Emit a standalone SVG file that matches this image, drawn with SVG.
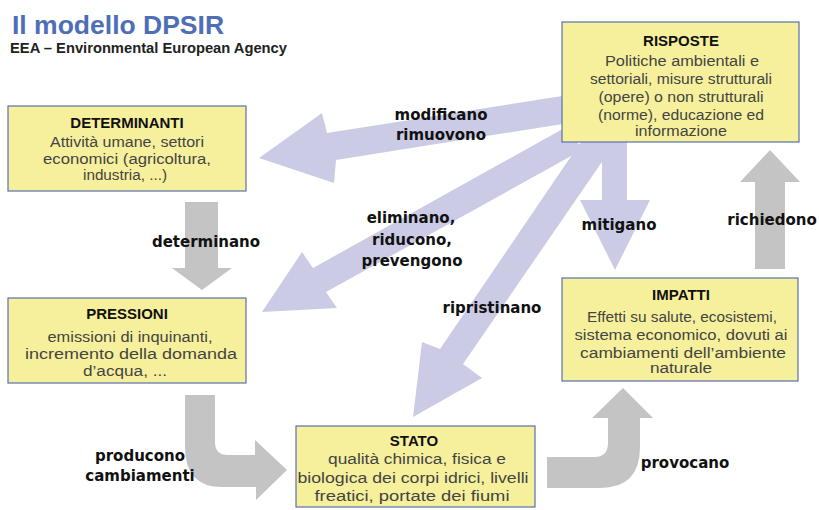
<svg xmlns="http://www.w3.org/2000/svg" width="819" height="510" viewBox="0 0 819 510">
<style>
.box{fill:#f6f09c;stroke:#5a70b0;stroke-width:1.2}
.ttl{font-family:"Liberation Sans",Arial,sans-serif;font-weight:bold;font-size:15px;fill:#111;text-anchor:middle}
.txt{font-family:"Liberation Sans",Arial,sans-serif;font-size:14px;fill:#444;text-anchor:middle}
.lav{fill:#cbcbe6}
.gry{fill:#c4c4c4}
.lbl{font-family:"DejaVu Sans",Verdana,sans-serif;font-weight:bold;font-size:15px;fill:#111;text-anchor:middle}
</style>
<rect width="819" height="510" fill="#ffffff"/>
<text x="12" y="34" font-family="Liberation Sans, Arial, sans-serif" font-weight="bold" font-size="26.5" fill="#4e6eb8">Il modello DPSIR</text>
<text x="10" y="53" font-family="Liberation Sans, Arial, sans-serif" font-weight="bold" font-size="14" fill="#222" textLength="277" lengthAdjust="spacingAndGlyphs">EEA – Environmental European Agency</text>
<g id="connectors">
<polygon class="lav" points="575,94 575,122 336,160 334,183 259,158 322,113 327,133"/>
<polygon class="lav" points="568,126 582,150 326,292 337,308 262,312 302,252 313,268"/>
<polygon class="lav" points="593,124 617,140 463,364 482,378 413,417 422,342 440,349"/>
<polygon class="lav" points="602,135 627,135 627,200 650,200 615,270 580,200 602,200"/>
<polygon class="gry" points="755,269 785,269 785,182 800,182 770,150 740,182 755,182"/>
<polygon class="gry" points="185,202 218,202 218,268 232,268 202,290 172,268 185,268"/>
<path class="gry" d="M185,395 L215,395 L215,442 Q215,455 228,455 L255,455 L255,440 L287,470 L256,500 L256,487 L222,487 Q185,487 185,447 Z"/>
<path class="gry" d="M547,457 L594,457 Q608,457 608,443 L608,418 L592,418 L623,388 L653,418 L640,418 L640,447 Q640,488 600,488 L547,488 Z"/>
<text class="lbl" x="441" y="120">modificano</text>
<text class="lbl" x="441" y="140">rimuovono</text>
<text class="lbl" x="411" y="223">eliminano,</text>
<text class="lbl" x="412" y="245">riducono,</text>
<text class="lbl" x="412" y="266">prevengono</text>
<text class="lbl" x="492" y="313">ripristinano</text>
<text class="lbl" x="619" y="230">mitigano</text>
<text class="lbl" x="772" y="225">richiedono</text>
<text class="lbl" x="206" y="247">determinano</text>
<text class="lbl" x="140" y="461">producono</text>
<text class="lbl" x="140" y="481">cambiamenti</text>
<text class="lbl" x="685" y="468">provocano</text>
</g>
<g id="determinanti">
<rect class="box" x="8" y="106" width="238" height="85"/>
<text class="ttl" x="127" y="128">DETERMINANTI</text>
<text class="txt" x="127" y="147" textLength="154" lengthAdjust="spacingAndGlyphs">Attività umane, settori</text>
<text class="txt" x="127" y="164" textLength="168" lengthAdjust="spacingAndGlyphs">economici (agricoltura,</text>
<text class="txt" x="125" y="180" textLength="84" lengthAdjust="spacingAndGlyphs">industria, ...)</text>
</g>
<g id="pressioni">
<rect class="box" x="8" y="298" width="238" height="85"/>
<text class="ttl" x="127" y="319">PRESSIONI</text>
<text class="txt" x="130" y="342" textLength="165" lengthAdjust="spacingAndGlyphs">emissioni di inquinanti,</text>
<text class="txt" x="131" y="359" textLength="212" lengthAdjust="spacingAndGlyphs">incremento della domanda</text>
<text class="txt" x="125" y="376" textLength="84" lengthAdjust="spacingAndGlyphs">d’acqua, ...</text>
</g>
<g id="risposte">
<rect class="box" x="562" y="22" width="237" height="120"/>
<text class="ttl" x="681" y="46">RISPOSTE</text>
<text class="txt" x="682" y="66" textLength="154" lengthAdjust="spacingAndGlyphs">Politiche ambientali e</text>
<text class="txt" x="681" y="84" textLength="182" lengthAdjust="spacingAndGlyphs">settoriali, misure strutturali</text>
<text class="txt" x="681" y="102" textLength="165" lengthAdjust="spacingAndGlyphs">(opere) o non strutturali</text>
<text class="txt" x="681" y="120" textLength="166" lengthAdjust="spacingAndGlyphs">(norme), educazione ed</text>
<text class="txt" x="681" y="136" textLength="92" lengthAdjust="spacingAndGlyphs">informazione</text>
</g>
<g id="impatti">
<rect class="box" x="562" y="278" width="236" height="103"/>
<text class="ttl" x="681" y="300">IMPATTI</text>
<text class="txt" x="682" y="322" textLength="190" lengthAdjust="spacingAndGlyphs">Effetti su salute, ecosistemi,</text>
<text class="txt" x="681" y="340" textLength="213" lengthAdjust="spacingAndGlyphs">sistema economico, dovuti ai</text>
<text class="txt" x="683" y="358" textLength="206" lengthAdjust="spacingAndGlyphs">cambiamenti dell’ambiente</text>
<text class="txt" x="681" y="373" textLength="62" lengthAdjust="spacingAndGlyphs">naturale</text>
</g>
<g id="stato">
<rect class="box" x="296" y="426" width="239" height="81"/>
<text class="ttl" x="414" y="446">STATO</text>
<text class="txt" x="417" y="464" textLength="178" lengthAdjust="spacingAndGlyphs">qualità chimica, fisica e</text>
<text class="txt" x="413" y="483" textLength="231" lengthAdjust="spacingAndGlyphs">biologica dei corpi idrici, livelli</text>
<text class="txt" x="412" y="501" textLength="195" lengthAdjust="spacingAndGlyphs">freatici, portate dei fiumi</text>
</g>
</svg>
